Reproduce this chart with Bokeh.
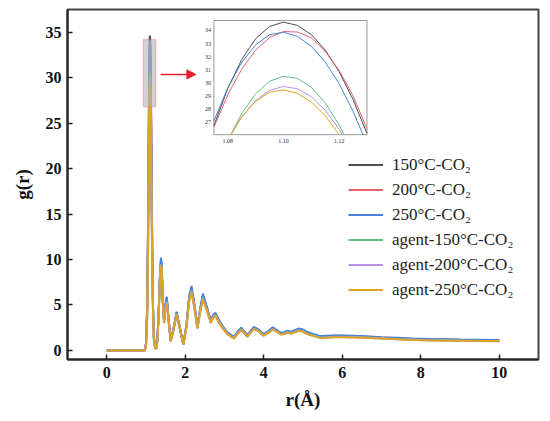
import numpy as np
from bokeh.plotting import figure
from bokeh.models import (Range1d, Legend, LegendItem, BoxAnnotation, Arrow,
                          NormalHead, FixedTicker)
from bokeh.embed import file_html
from bokeh.resources import INLINE
from bokeh.core.properties import value

# ---------------- data ----------------
labels = ["150°C-CO₂", "200°C-CO₂", "250°C-CO₂",
          "agent-150°C-CO₂", "agent-200°C-CO₂", "agent-250°C-CO₂"]
colors = ["#4d4d4d", "#e6646e", "#4a80d9", "#5fbf86", "#b693e6", "#dca327"]

r_rise = [0.0, 0.5, 0.97, 1.0, 1.03, 1.05, 1.065]
r_peak = [1.075, 1.08, 1.085, 1.09, 1.095, 1.10, 1.105, 1.11, 1.115, 1.12, 1.125, 1.13]
r_tail = [1.145, 1.16, 1.18, 1.20, 1.23, 1.26, 1.29, 1.32, 1.35, 1.38,
          1.40, 1.43, 1.46, 1.49, 1.53, 1.57, 1.63, 1.70, 1.78, 1.86,
          1.95, 2.03, 2.10, 2.16, 2.23, 2.31, 2.38, 2.45, 2.55, 2.65,
          2.71, 2.77, 2.85, 2.95, 3.07, 3.24, 3.34, 3.43, 3.51, 3.58,
          3.66, 3.75, 3.87, 3.99, 4.11, 4.23, 4.33, 4.43, 4.52, 4.60,
          4.70, 4.80, 4.89, 5.00, 5.10, 5.25, 5.45, 5.60, 5.80, 6.00,
          6.30, 6.60, 7.00, 7.40, 7.80, 8.20, 8.60, 9.00, 9.50, 10.00]

g150_rise = [0, 0, 0, 0.7, 4.6, 12.5, 21.0]
g150_peak = [26.74, 29.57, 31.79, 33.37, 34.31, 34.63, 34.39, 33.69, 32.50, 30.85, 28.73, 26.13]
g150_tail = [18.2, 10.8, 4.6, 1.5, 0.38, 0.2, 1.15, 3.85, 7.5, 9.8,
             9.2, 5.25, 3.15, 4.8, 5.65, 3.65, 1.05, 2.3, 4.1, 2.5,
             0.68, 2.65, 5.8, 6.8, 5.0, 2.5, 4.45, 5.95, 4.6, 3.15,
             3.75, 4.0, 3.3, 2.6, 1.9, 1.42, 2.0, 2.4, 1.97, 1.62,
             2.0, 2.48, 2.2, 1.72, 2.0, 2.44, 2.17, 1.87, 1.92, 2.06,
             1.97, 2.15, 2.3, 2.2, 1.96, 1.72, 1.47, 1.52, 1.57, 1.57,
             1.53, 1.48, 1.39, 1.31, 1.24, 1.2, 1.17, 1.14, 1.12, 1.1]

g200_rise = [0, 0, 0, 0.7, 4.6, 12.4, 21.0]
g200_peak = [26.6, 29.1, 31.05, 32.5, 33.45, 33.92, 33.88, 33.45, 32.4, 30.95, 29.0, 26.5]
g200_tail = [18.4, 11.0, 4.7, 1.55, 0.35, 0.2, 1.15, 3.9, 7.6, 9.9,
             9.3, 5.3, 3.2, 4.85, 5.7, 3.7, 1.05, 2.35, 4.15, 2.55,
             0.7, 2.7, 5.85, 6.9, 5.05, 2.55, 4.5, 6.05, 4.7, 3.2,
             3.8, 4.05, 3.35, 2.65, 1.95, 1.45, 2.05, 2.45, 2.0, 1.65,
             2.05, 2.52, 2.25, 1.75, 2.05, 2.48, 2.2, 1.9, 1.95, 2.1,
             2.0, 2.2, 2.33, 2.25, 2.0, 1.75, 1.5, 1.56, 1.6, 1.6,
             1.56, 1.5, 1.41, 1.34, 1.26, 1.22, 1.19, 1.16, 1.14, 1.12]

g250_rise = [0, 0, 0, 0.8, 5.0, 13.0, 21.5]
g250_peak = [27.1, 29.63, 31.57, 32.9, 33.68, 33.86, 33.55, 32.79, 31.58, 29.93, 27.83, 25.3]
g250_tail = [17.8, 10.5, 4.5, 1.5, 0.4, 0.2, 1.2, 4.0, 7.8, 10.2,
             9.6, 5.5, 3.3, 5.0, 5.9, 3.8, 1.1, 2.4, 4.25, 2.6,
             0.7, 2.8, 6.0, 7.1, 5.2, 2.6, 4.6, 6.25, 4.8, 3.3,
             3.9, 4.13, 3.4, 2.7, 2.0, 1.5, 2.1, 2.5, 2.05, 1.7,
             2.1, 2.6, 2.3, 1.8, 2.1, 2.55, 2.25, 1.95, 2.0, 2.15,
             2.05, 2.25, 2.4, 2.3, 2.05, 1.8, 1.55, 1.6, 1.65, 1.65,
             1.6, 1.55, 1.45, 1.38, 1.3, 1.26, 1.23, 1.2, 1.18, 1.15]

ga150_rise = [0, 0, 0, 0.5, 3.5, 10.0, 17.5]
ga150_peak = [22.94, 25.58, 27.66, 29.17, 30.12, 30.5, 30.34, 29.66, 28.48, 26.78, 24.57, 21.85]
ga150_tail = [14.7, 8.7, 3.75, 1.2, 0.32, 0.17, 1.05, 3.7, 7.2, 9.5,
              9.0, 5.1, 3.1, 4.6, 5.4, 3.55, 1.0, 2.25, 4.0, 2.45,
              0.62, 2.6, 5.6, 6.6, 4.85, 2.45, 4.35, 5.8, 4.5, 3.1,
              3.7, 3.9, 3.2, 2.55, 1.85, 1.36, 1.92, 2.32, 1.92, 1.56,
              1.96, 2.42, 2.16, 1.66, 1.95, 2.38, 2.1, 1.82, 1.86, 2.0,
              1.9, 2.08, 2.22, 2.12, 1.88, 1.66, 1.41, 1.46, 1.5, 1.5,
              1.47, 1.42, 1.34, 1.26, 1.19, 1.14, 1.11, 1.08, 1.06, 1.04]

ga200_rise = [0, 0, 0, 0.5, 3.6, 10.3, 18.0]
ga200_peak = [23.43, 25.65, 27.39, 28.65, 29.43, 29.72, 29.55, 28.94, 27.91, 26.45, 24.56, 22.24]
ga200_tail = [15.0, 8.9, 3.85, 1.25, 0.3, 0.16, 1.02, 3.65, 7.1, 9.4,
              8.9, 5.05, 3.05, 4.5, 5.3, 3.5, 1.0, 2.22, 3.95, 2.42,
              0.63, 2.55, 5.5, 6.5, 4.78, 2.42, 4.28, 5.7, 4.45, 3.05,
              3.65, 3.85, 3.15, 2.5, 1.82, 1.33, 1.88, 2.28, 1.88, 1.53,
              1.93, 2.38, 2.13, 1.63, 1.92, 2.34, 2.08, 1.78, 1.83, 1.97,
              1.87, 2.04, 2.18, 2.08, 1.84, 1.63, 1.38, 1.43, 1.47, 1.47,
              1.44, 1.4, 1.32, 1.24, 1.17, 1.12, 1.09, 1.06, 1.04, 1.02]

ga250_rise = [0, 0, 0, 0.5, 3.6, 10.3, 18.0]
ga250_peak = [23.39, 25.65, 27.39, 28.6, 29.29, 29.46, 29.2, 28.54, 27.49, 26.04, 24.2, 21.97]
ga250_tail = [14.8, 8.8, 3.8, 1.2, 0.3, 0.15, 1.0, 3.6, 7.0, 9.3,
              8.8, 5.0, 3.0, 4.4, 5.2, 3.4, 1.0, 2.2, 3.9, 2.4,
              0.65, 2.5, 5.4, 6.4, 4.7, 2.4, 4.2, 5.6, 4.4, 3.0,
              3.6, 3.8, 3.1, 2.45, 1.8, 1.3, 1.85, 2.25, 1.85, 1.5,
              1.9, 2.35, 2.1, 1.6, 1.9, 2.3, 2.05, 1.75, 1.8, 1.95,
              1.85, 2.0, 2.15, 2.05, 1.8, 1.6, 1.35, 1.4, 1.45, 1.45,
              1.42, 1.38, 1.3, 1.22, 1.15, 1.1, 1.07, 1.05, 1.03, 1.0]

x_ticks = [0, 2, 4, 6, 8, 10]
y_ticks = [0, 5, 10, 15, 20, 25, 30, 35]
inset_x_ticks = [1.08, 1.10, 1.12]
inset_x_labels = ["1.08", "1.10", "1.12"]
inset_y_ticks = [27, 28, 29, 30, 31, 32, 33, 34]

series = [
    (g150_rise, g150_peak, g150_tail),
    (g200_rise, g200_peak, g200_tail),
    (g250_rise, g250_peak, g250_tail),
    (ga150_rise, ga150_peak, ga150_tail),
    (ga200_rise, ga200_peak, ga200_tail),
    (ga250_rise, ga250_peak, ga250_tail),
]

r_all = r_rise + r_peak + r_tail

# ---------------- figure ----------------
SERIF = "Liberation Serif"
p = figure(width=550, height=421, output_backend="svg", toolbar_location=None,
           x_range=Range1d(-1, 11), y_range=Range1d(-1, 37.5),
           min_border_left=67, min_border_right=12, min_border_top=9,
           min_border_bottom=62)
p.xgrid.visible = False
p.ygrid.visible = False
p.outline_line_color = "#444444"
p.outline_line_width = 2
p.background_fill_color = "white"
p.border_fill_color = "white"

for ax in (p.xaxis[0], p.yaxis[0]):
    ax.axis_line_color = "#222222"
    ax.axis_line_width = 2
    ax.major_tick_in = 5
    ax.major_tick_out = 0
    ax.major_tick_line_width = 1.5
    ax.major_tick_line_color = "#222222"
    ax.minor_tick_line_color = None
    ax.major_label_text_font = SERIF
    ax.major_label_text_font_style = "bold"
    ax.major_label_text_font_size = "16px"
    ax.major_label_text_color = "#111111"
    ax.axis_label_text_font = SERIF
    ax.axis_label_text_font_style = "bold"
    ax.axis_label_text_font_size = "19px"
    ax.axis_label_text_color = "#111111"

p.xaxis.ticker = FixedTicker(ticks=x_ticks)
p.yaxis.ticker = FixedTicker(ticks=y_ticks)
p.xaxis.axis_label = "r(Å)"
p.yaxis.axis_label = "g(r)"
p.xaxis.major_label_standoff = 7
p.yaxis.major_label_standoff = 6
p.xaxis.axis_label_standoff = 8
p.yaxis.axis_label_standoff = 10

items = []
for (gr, gp, gt), lab, col in zip(series, labels, colors):
    rend = p.line(r_all, gr + gp + gt, line_color=col, line_width=2)
    items.append(LegendItem(label=lab, renderers=[rend]))

legend = Legend(items=items, location=(281, 57),
                label_text_font=SERIF, label_text_font_size="17px",
                label_text_color="#222222",
                glyph_width=35, glyph_height=25, label_height=25,
                label_standoff=9, spacing=0, padding=0, margin=0,
                border_line_color=None, background_fill_alpha=0)
p.add_layout(legend)

# highlighted peak box and arrow
p.add_layout(BoxAnnotation(left=0.93, right=1.25, bottom=26.8, top=34.2,
                           fill_color="#b4b4b4", fill_alpha=0.6,
                           line_color="#e06060", line_width=1.5))
p.add_layout(Arrow(end=NormalHead(size=9, fill_color="#e8202a", line_color="#e8202a"),
                   x_start=1.37, y_start=30.36, x_end=2.27, y_end=30.36,
                   line_color="#e8202a", line_width=1.5))

# ---------------- inset ----------------
ix0, ix1, iy0, iy1 = 1.075, 1.13, 26.04, 34.76
inset = p.subplot(x_source=Range1d(ix0, ix1), y_source=Range1d(iy0, iy1),
                  x_target=Range1d(2.73, 6.63), y_target=Range1d(23.73, 36.29))

inset.quad(left=[ix0], right=[ix1], bottom=[iy0], top=[iy1],
           fill_color="white", line_color="#9a9a9a", line_width=1)


def clip_below(xs, ys, ylo):
    out_x, out_y, cx, cy = [], [], [], []
    for i in range(len(xs)):
        x, y = xs[i], ys[i]
        if i > 0:
            xp, yp = xs[i - 1], ys[i - 1]
            if (yp < ylo) != (y < ylo):
                t = (ylo - yp) / (y - yp)
                cx.append(xp + t * (x - xp))
                cy.append(ylo)
                if y < ylo:
                    out_x.append(cx)
                    out_y.append(cy)
                    cx, cy = [], []
        if y >= ylo:
            cx.append(x)
            cy.append(y)
    if cx:
        out_x.append(cx)
        out_y.append(cy)
    return out_x, out_y


for (gr, gp, gt), col in zip(series, colors):
    xs, ys = clip_below(r_peak, gp, iy0)
    inset.multi_line(xs=xs, ys=ys, line_color=col, line_width=1)

inset.text(x=[ix0] * len(inset_y_ticks), y=inset_y_ticks,
           text=[str(v) for v in inset_y_ticks],
           text_align="right", text_baseline="middle", x_offset=-3,
           text_font=value(SERIF), text_font_size="6px", text_color="#333333")
inset.text(x=inset_x_ticks, y=[iy0] * len(inset_x_ticks), text=inset_x_labels,
           text_align="center", text_baseline="top", y_offset=4,
           text_font=value(SERIF), text_font_size="6px", text_color="#333333")

open("out.html", "w").write(file_html(p, INLINE))
